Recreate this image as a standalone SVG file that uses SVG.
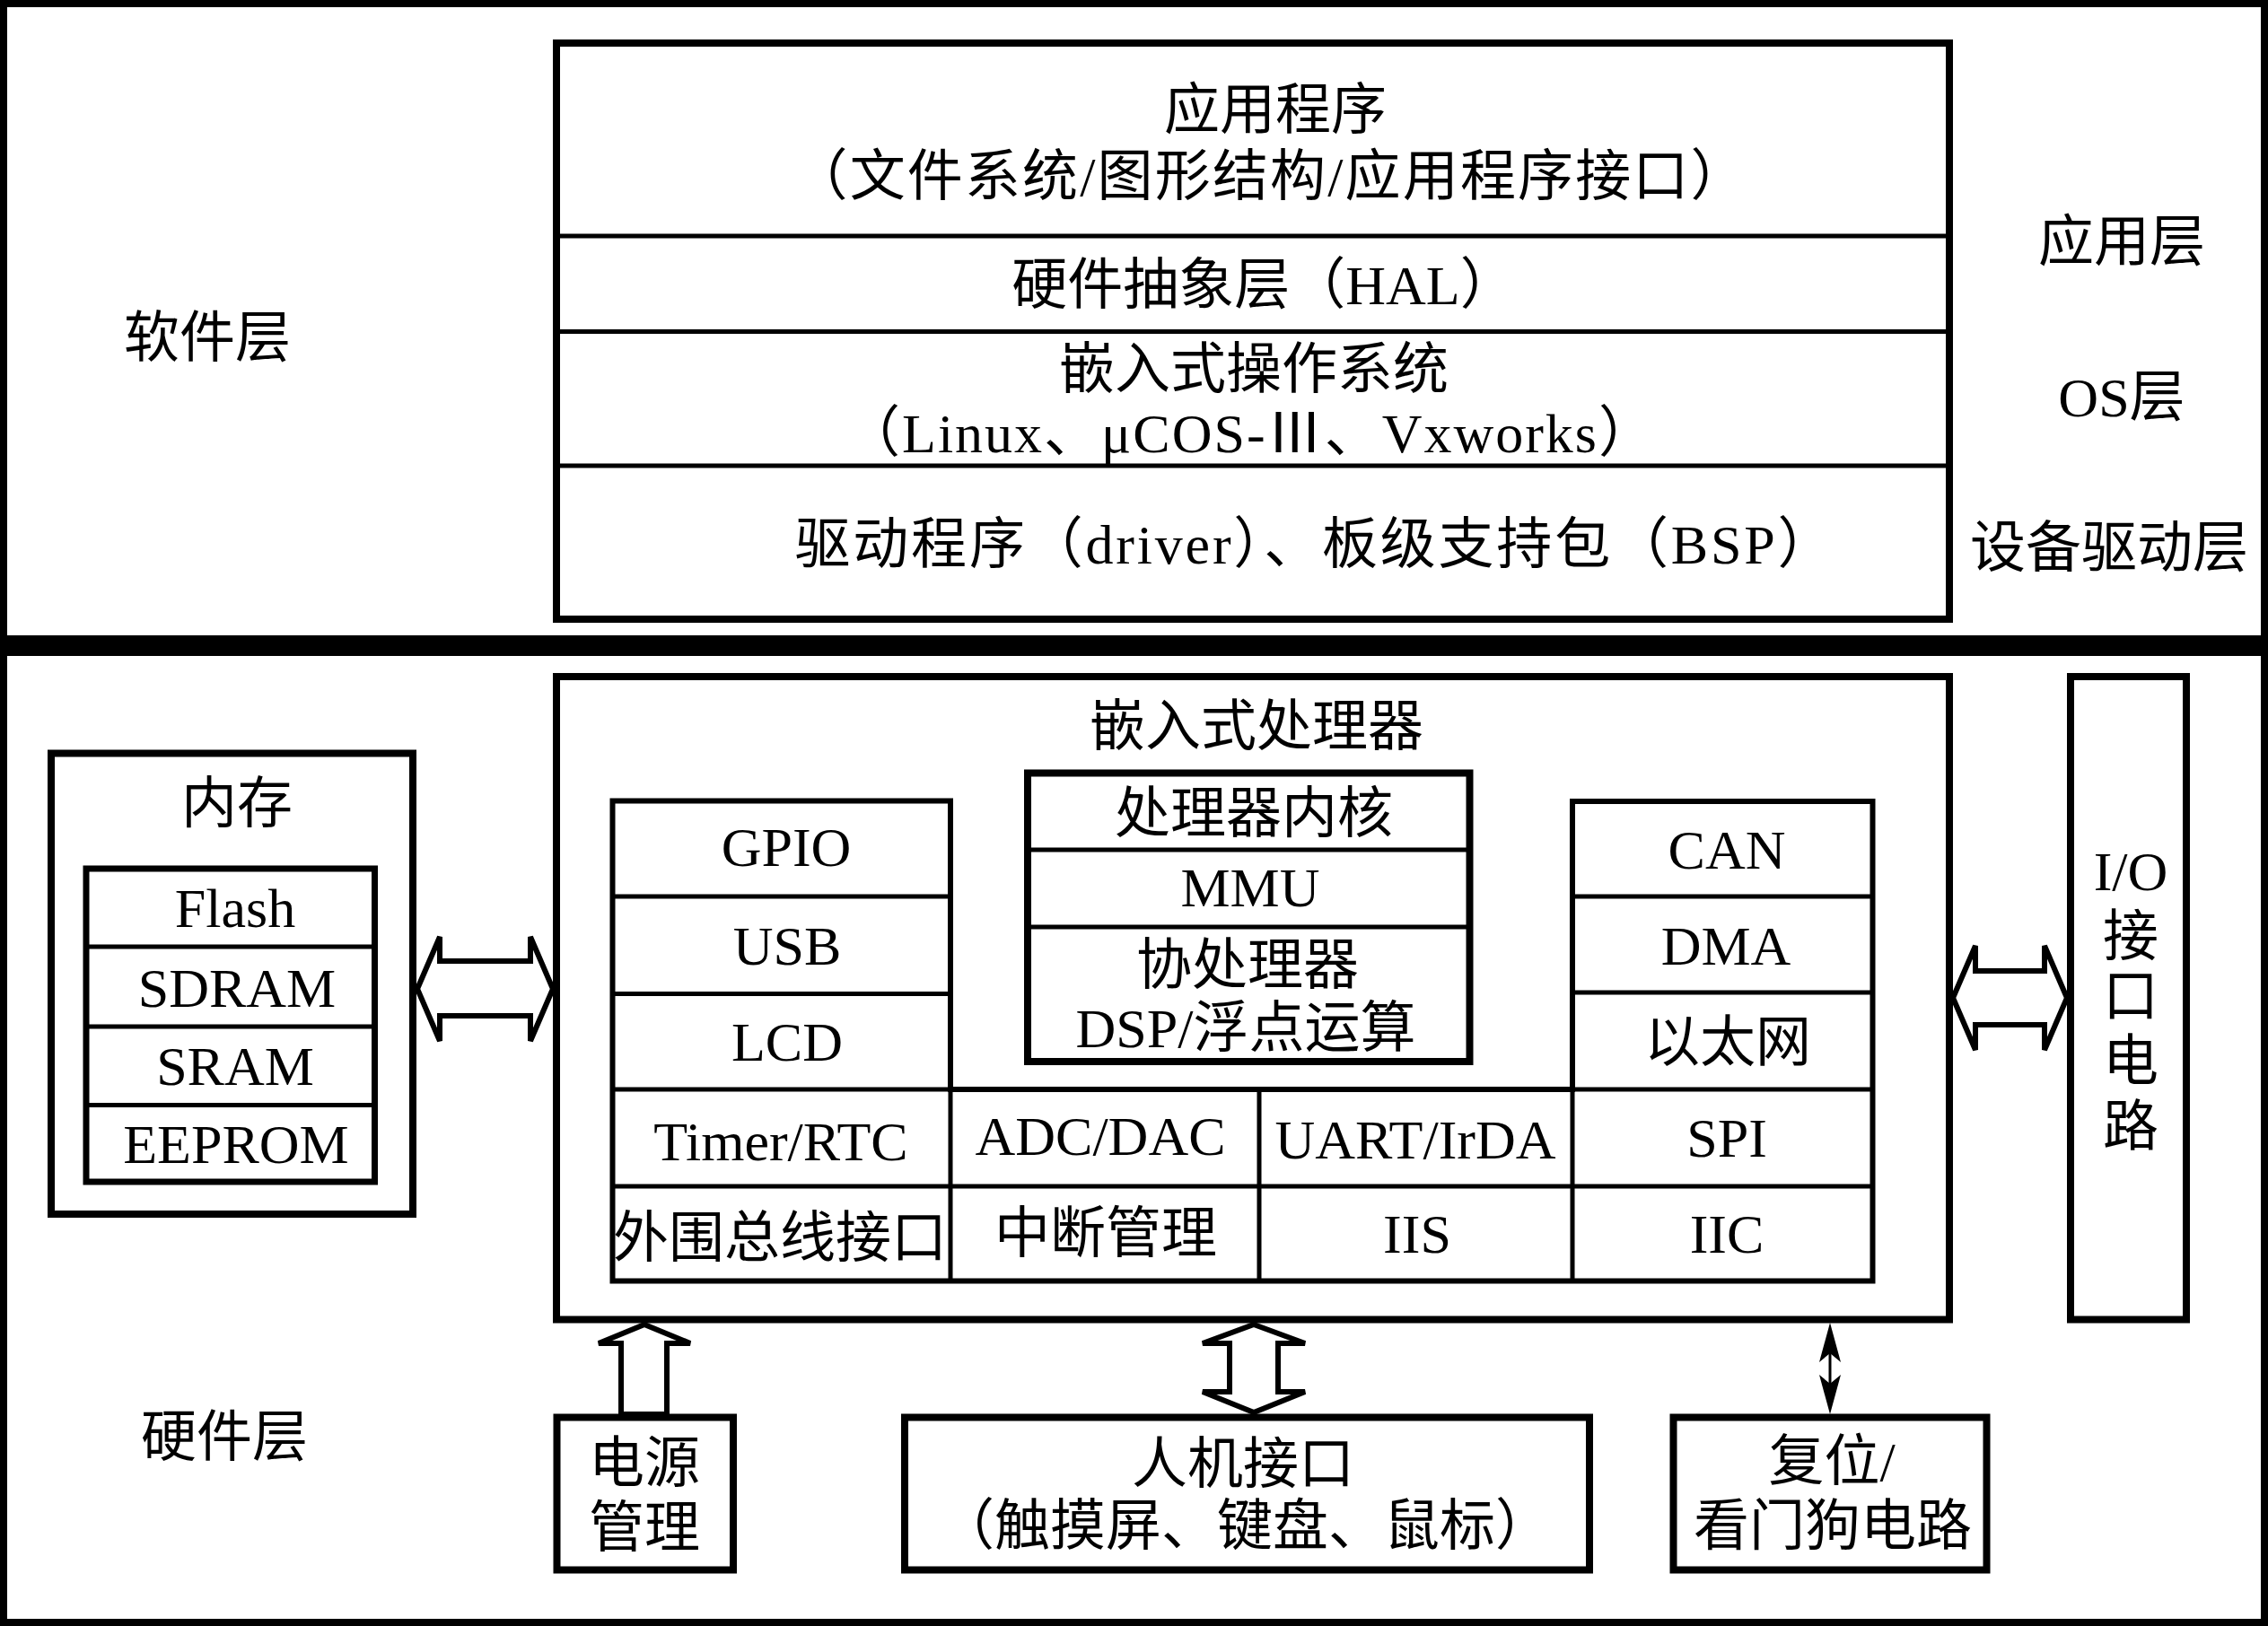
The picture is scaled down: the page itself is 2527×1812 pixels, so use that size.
<svg xmlns="http://www.w3.org/2000/svg" width="2527" height="1812" viewBox="0 0 2527 1812">
<style>
.t{font-family:'Liberation Serif','Noto Sans CJK SC',serif;font-size:62px;fill:#000;text-anchor:middle}
.s{text-anchor:start}
.box{fill:#fff;stroke:#000;stroke-width:8}
.ln{stroke:#000;stroke-width:5;fill:none}
.arr{fill:#fff;stroke:#000;stroke-width:6;stroke-linejoin:miter}
.head{fill:#000;stroke:none}
</style>
<rect x="0" y="0" width="2527" height="1812" fill="#fff"/>
<g id="frame">
<rect x="4" y="4" width="2519" height="1804" fill="none" stroke="#000" stroke-width="8"/>
<rect x="0" y="708" width="2527" height="23" fill="#000"/>
<text class="t s" x="138" y="398">软件层</text>
<text class="t s" x="157" y="1623">硬件层</text>
</g>
<g id="software-stack">
<rect class="box" x="620" y="48" width="1552" height="642"/>
<line class="ln" x1="620" y1="263" x2="2172" y2="263"/>
<line class="ln" x1="620" y1="369.5" x2="2172" y2="369.5"/>
<line class="ln" x1="620" y1="519" x2="2172" y2="519"/>
<text class="t" x="1421" y="144">应用程序</text>
<text class="t" x="1414" y="218" textLength="1063" lengthAdjust="spacing">（文件系统/图形结构/应用程序接口）</text>
<text class="t" x="1408" y="339">硬件抽象层（HAL）</text>
<text class="t" x="1397" y="433">嵌入式操作系统</text>
<text class="t" x="1392" y="504" textLength="902" lengthAdjust="spacing">（Linux、μCOS-Ⅲ、Vxworks）</text>
<text class="t" x="1464" y="628" textLength="1157" lengthAdjust="spacing">驱动程序（driver）、板级支持包（BSP）</text>
</g>
<g id="layer-labels">
<text class="t" x="2364" y="291">应用层</text>
<text class="t" x="2364" y="464">OS层</text>
<text class="t" x="2350" y="632">设备驱动层</text>
</g>
<g id="memory">
<rect class="box" x="57" y="839.5" width="403" height="513.5"/>
<text class="t" x="264" y="917">内存</text>
<rect x="96" y="968" width="321.5" height="349" fill="#fff" stroke="#000" stroke-width="7"/>
<line class="ln" x1="96" y1="1055" x2="417.5" y2="1055"/>
<line class="ln" x1="96" y1="1144" x2="417.5" y2="1144"/>
<line class="ln" x1="96" y1="1231.5" x2="417.5" y2="1231.5"/>
<text class="t" x="262" y="1033">Flash</text>
<text class="t" x="264" y="1122">SDRAM</text>
<text class="t" x="262" y="1209">SRAM</text>
<text class="t" x="263" y="1296">EEPROM</text>
</g>
<g id="processor">
<rect class="box" x="620" y="754" width="1552" height="716.5"/>
<text class="t" x="1400" y="831">嵌入式处理器</text>
</g>
<g id="core">
<rect class="box" x="1145" y="861.5" width="492.5" height="321.5"/>
<line class="ln" x1="1145" y1="947" x2="1637.5" y2="947"/>
<line class="ln" x1="1145" y1="1033" x2="1637.5" y2="1033"/>
<text class="t" x="1397" y="928">处理器内核</text>
<text class="t" x="1393" y="1010">MMU</text>
<text class="t" x="1390" y="1097">协处理器</text>
<text class="t" x="1388" y="1167">DSP/浮点运算</text>
</g>
<g id="peripherals">
<path d="M682.5 892.5 H1059 V1214 H1752 V893 H2086.5 V1427.5 H682.5 Z" fill="#fff" stroke="#000" stroke-width="6"/>
<line class="ln" x1="682.5" y1="999" x2="1059" y2="999"/>
<line class="ln" x1="682.5" y1="1107.5" x2="1059" y2="1107.5"/>
<line class="ln" x1="682.5" y1="1214" x2="2086.5" y2="1214"/>
<line class="ln" x1="682.5" y1="1322" x2="2086.5" y2="1322"/>
<line class="ln" x1="1059" y1="1214" x2="1059" y2="1427.5"/>
<line class="ln" x1="1403" y1="1214" x2="1403" y2="1427.5"/>
<line class="ln" x1="1752" y1="1214" x2="1752" y2="1427.5"/>
<line class="ln" x1="1752" y1="999" x2="2086.5" y2="999"/>
<line class="ln" x1="1752" y1="1106" x2="2086.5" y2="1106"/>
<text class="t" x="876" y="965">GPIO</text>
<text class="t" x="877" y="1075">USB</text>
<text class="t" x="877" y="1182">LCD</text>
<text class="t" x="870" y="1293">Timer/RTC</text>
<text class="t" x="869" y="1401">外围总线接口</text>
<text class="t" x="1226" y="1287">ADC/DAC</text>
<text class="t" x="1232" y="1396">中断管理</text>
<text class="t" x="1577" y="1291">UART/IrDA</text>
<text class="t" x="1579" y="1396">IIS</text>
<text class="t" x="1924" y="968">CAN</text>
<text class="t" x="1923" y="1075">DMA</text>
<text class="t" x="1925" y="1183">以太网</text>
<text class="t" x="1924" y="1289">SPI</text>
<text class="t" x="1924" y="1396">IIC</text>
</g>
<g id="io">
<rect class="box" x="2307" y="754" width="129" height="716.5"/>
<text class="t" x="2374" y="992">I/O</text>
<text class="t" x="2374" y="1065">接</text>
<text class="t" x="2374" y="1132">口</text>
<text class="t" x="2374" y="1204">电</text>
<text class="t" x="2374" y="1277">路</text>
</g>
<g id="power">
<rect class="box" x="620.5" y="1579.5" width="196.5" height="170"/>
<text class="t" x="718" y="1652">电源</text>
<text class="t" x="718" y="1724">管理</text>
</g>
<g id="hmi">
<rect class="box" x="1008" y="1579.5" width="763" height="170"/>
<text class="t" x="1385" y="1653">人机接口</text>
<text class="t" x="1387" y="1722">（触摸屏、键盘、鼠标）</text>
</g>
<g id="reset">
<rect class="box" x="1864.5" y="1579.5" width="349" height="170"/>
<text class="t" x="2041" y="1650">复位/</text>
<text class="t" x="2042" y="1722">看门狗电路</text>
</g>
<g id="connectors">
<polygon class="arr" points="465,1102 490,1044 490,1071 591,1071 591,1044 616,1102 591,1160 591,1132 490,1132 490,1160"/>
<polygon class="arr" points="2176,1112 2201,1054 2201,1082 2278,1082 2278,1054 2303,1112 2278,1170 2278,1142 2201,1142 2201,1170"/>
<polygon class="arr" points="718,1476 769,1497 743,1497 743,1576 692,1576 692,1497 667,1497"/>
<polygon class="arr" points="1397,1476 1454,1497 1424,1497 1424,1551 1454,1551 1397,1574 1340,1551 1370,1551 1370,1497 1340,1497"/>
<line x1="2039" y1="1500" x2="2039" y2="1550" stroke="#000" stroke-width="3"/>
<polygon class="head" points="2039,1474 2051,1518 2039,1508 2027,1518"/>
<polygon class="head" points="2039,1576 2051,1532 2039,1542 2027,1532"/>
</g>
</svg>
